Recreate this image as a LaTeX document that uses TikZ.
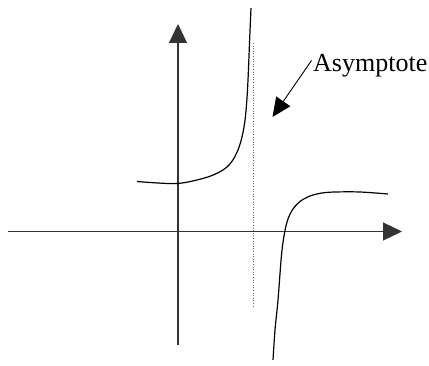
\documentclass[tikz,border=0pt]{standalone}
\usepackage{fontspec}
\setmainfont{Liberation Serif}
\usetikzlibrary{arrows.meta}
\begin{document}
\begin{tikzpicture}[x=1pt,y=-1pt,
  axis/.style={line width=1.1pt,color=black!80,-{Triangle[length=19pt,width=18pt]}},
  branch/.style={line width=1.2pt,black},
  asym/.style={line width=0.7pt,black!60,dash pattern=on 0.7pt off 1.9pt},
  pointer/.style={line width=0.9pt,black,-{Triangle[length=19pt,width=17pt]}},
  lab/.style={font=\fontsize{26}{28}\selectfont,inner sep=0pt,anchor=base west}]
\useasboundingbox (0,0) rectangle (429,366);
\coordinate (xl) at (8,231.5);
\coordinate (xr) at (402,231.5);
\coordinate (yb) at (178,345);
\coordinate (yt) at (178,24);
\coordinate (at) at (253,43);
\coordinate (ab) at (253,307);
\coordinate (tip) at (272.5,117);
\draw[axis] (xl) -- (xr);
\draw[axis] (yb) -- (yt);
\draw[asym] (at) -- (ab);
\draw[branch] plot[smooth,tension=0.55] coordinates {(137,181.5) (158,183) (178,183.5) (197,180) (212,175.5) (223,170) (229,165) (233.5,159) (238,150) (241.5,139) (244.5,124) (246.5,105) (248,80) (249.5,43) (251,8)};
\draw[branch] plot[smooth,tension=0.55] coordinates {(273,360) (275,330) (278,300) (281.5,255) (284.5,233) (288,219) (293,209) (300,201.5) (310,196) (322,193) (335,192) (360,192) (388,194)};
\node[lab] (label) at (313,71.5) {Asymptote};
\draw[pointer] (311.5,60.5) coordinate (ps) -- (tip);
\end{tikzpicture}
\end{document}
